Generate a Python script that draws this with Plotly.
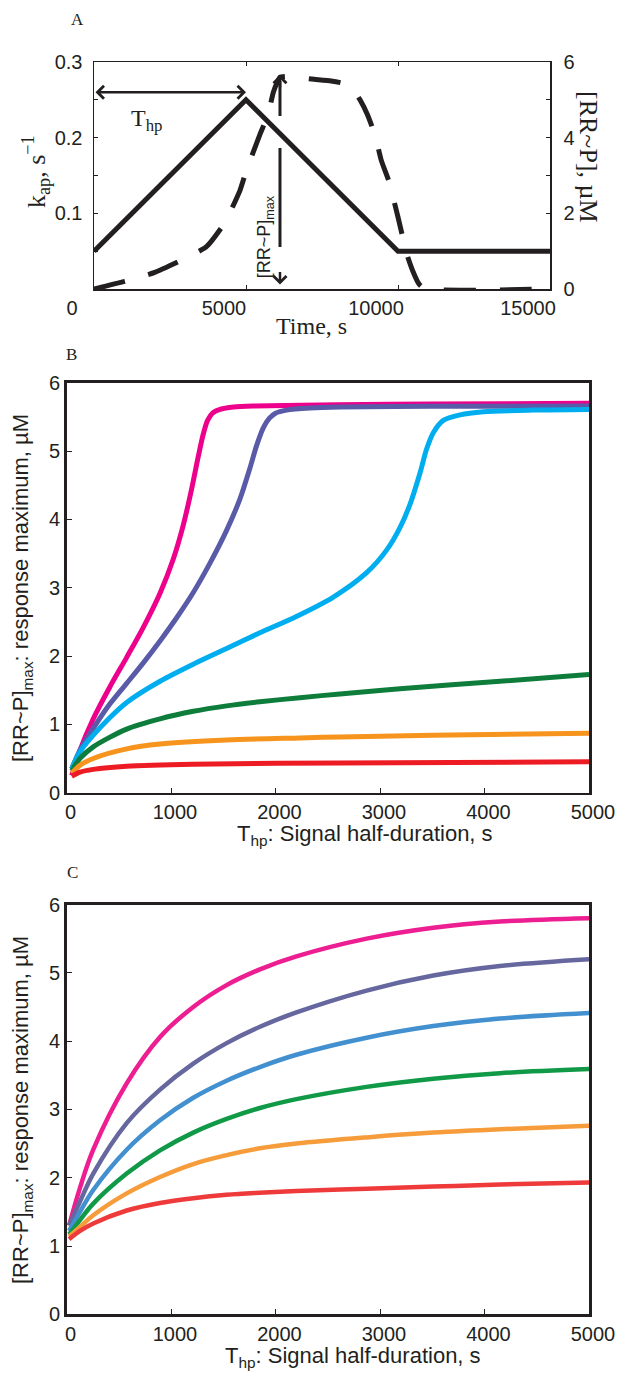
import plotly.graph_objects as go

# ---------------- data ----------------
# Panel A: signal k_ap (s^-1) and response [RR~P] (uM) vs time (s)
sig_t = [0, 5000, 10000, 15000]
sig_kap = [0.05, 0.25, 0.05, 0.05]

resp_t = [0, 1000, 2000, 3000, 3700, 4300, 4800, 5000, 5450, 5720, 5900, 6050, 6120, 6400,
          7160, 7800, 8180, 8500, 8750, 9000, 9250, 9450, 9700, 10000, 10300, 10500, 10700,
          10900, 15000]
resp_uM = [0, 0.2, 0.44, 0.81, 1.12, 1.75, 2.6, 3.1, 4.07, 4.6, 5.2, 5.5, 5.6, 5.62,
           5.55, 5.5, 5.44, 5.3, 5.0, 4.6, 4.05, 3.4, 2.85, 1.9, 0.9, 0.45, 0.12,
           0.0, 0.0]

# Panel B: [RR~P]max vs Thp (s)
b_mag_t = [50, 129, 256, 416, 576, 735, 895, 1022, 1118, 1198, 1261, 1309, 1350, 1400, 1468, 1600, 1800, 2600, 3500, 5000]
b_mag_y = [0.25, 0.62, 1.08, 1.55, 1.98, 2.42, 2.92, 3.42, 3.92, 4.45, 4.92, 5.25, 5.45, 5.56, 5.61, 5.645, 5.66, 5.68, 5.69, 5.70]
b_sla_t = [50, 129, 256, 416, 576, 735, 895, 1054, 1213, 1373, 1532, 1660, 1755, 1819, 1883, 1940, 2000, 2106, 2330, 2617, 3500, 5000]
b_sla_y = [0.35, 0.62, 0.94, 1.30, 1.60, 1.90, 2.22, 2.56, 2.93, 3.36, 3.84, 4.30, 4.75, 5.08, 5.34, 5.48, 5.555, 5.60, 5.63, 5.645, 5.655, 5.66]
b_cya_t = [50, 129, 256, 416, 576, 895, 1213, 1532, 1851, 2200, 2550, 2872, 3063, 3191, 3287, 3383, 3446, 3510, 3606, 3766, 3989, 4467, 5000]
b_cya_y = [0.35, 0.60, 0.84, 1.10, 1.32, 1.63, 1.88, 2.11, 2.34, 2.58, 2.86, 3.22, 3.55, 3.88, 4.22, 4.68, 5.03, 5.27, 5.45, 5.53, 5.575, 5.60, 5.61]
b_grn_t = [50, 129, 256, 576, 895, 1213, 1532, 1851, 2234, 2617, 3191, 4148, 5000]
b_grn_y = [0.32, 0.50, 0.67, 0.93, 1.08, 1.19, 1.27, 1.33, 1.39, 1.445, 1.52, 1.63, 1.73]
b_org_t = [50, 129, 256, 576, 895, 1532, 2234, 2617, 3500, 5000]
b_org_y = [0.28, 0.40, 0.50, 0.64, 0.71, 0.77, 0.80, 0.815, 0.84, 0.87]
b_red_t = [50, 129, 256, 576, 1213, 2617, 5000]
b_red_y = [0.24, 0.30, 0.34, 0.385, 0.415, 0.435, 0.45]

# Panel C: [RR~P]max vs Thp (s)
c_t = [25, 129, 256, 576, 895, 1213, 1532, 1851, 2200, 2872, 3510, 4148, 5000]
c_mag_y = [1.30, 1.85, 2.41, 3.38, 4.06, 4.50, 4.82, 5.05, 5.24, 5.50, 5.66, 5.75, 5.80]
c_sla_y = [1.30, 1.65, 2.06, 2.80, 3.29, 3.67, 3.97, 4.21, 4.42, 4.74, 4.96, 5.10, 5.20]
c_blu_y = [1.22, 1.50, 1.82, 2.41, 2.84, 3.17, 3.42, 3.62, 3.80, 4.05, 4.22, 4.33, 4.41]
c_grn_y = [1.17, 1.38, 1.62, 2.06, 2.40, 2.66, 2.86, 3.02, 3.15, 3.33, 3.45, 3.53, 3.59]
c_org_y = [1.14, 1.28, 1.45, 1.77, 2.01, 2.20, 2.33, 2.43, 2.50, 2.59, 2.66, 2.71, 2.76]
c_red_y = [1.10, 1.22, 1.33, 1.52, 1.63, 1.70, 1.75, 1.78, 1.805, 1.84, 1.87, 1.90, 1.93]

a_xticks = [0, 5000, 10000, 15000]
a_xticktext = ["0", "5000", "10000", "15000"]
a_yticks = [0.05, 0.1, 0.15, 0.2, 0.25, 0.3]
a_yticktext = ["", "0.1", "", "0.2", "", "0.3"]
a_y2ticks = [0, 1, 2, 3, 4, 5, 6]
a_y2ticktext = ["0", "", "2", "", "4", "", "6"]
bc_xticks = [0, 1000, 2000, 3000, 4000, 5000]
bc_xticktext = ["0", "1000", "2000", "3000", "4000", "5000"]
bc_yticks = [0, 1, 2, 3, 4, 5, 6]
bc_yticktext = ["0", "1", "2", "3", "4", "5", "6"]

# annotation anchors (data units)
thp_arrow_y = 0.26
thp_arrow_x = [0, 5000]
thp_label = (1743, 0.223)
max_arrow_x = 6118
max_arrow_y = [5.66, 0.12]
max_label = (5625, 1.37)

# ---------------- styling ----------------
W, H = 617, 1374
INK = "#231F20"
SANS = "Liberation Sans, Arial, sans-serif"
SERIF = "Liberation Serif, Times New Roman, serif"

def px(x):
    return x / W

def py(y):
    return 1 - y / H

fig = go.Figure()

# Panel A
fig.add_trace(go.Scatter(x=sig_t, y=sig_kap, xaxis="x", yaxis="y", mode="lines",
                         line=dict(color=INK, width=5)))
fig.add_trace(go.Scatter(x=resp_t, y=resp_uM, xaxis="x", yaxis="y2", mode="lines",
                         line=dict(color=INK, width=5, dash="32px,24px", shape="spline", smoothing=0.5)))

# Panel B
b_series = [
    (b_mag_t, b_mag_y, "#EC008C"),
    (b_sla_t, b_sla_y, "#5A5BA8"),
    (b_cya_t, b_cya_y, "#00AEEF"),
    (b_grn_t, b_grn_y, "#0E7D3C"),
    (b_org_t, b_org_y, "#F7941D"),
    (b_red_t, b_red_y, "#ED1C24"),
]
for t, y, c in b_series:
    fig.add_trace(go.Scatter(x=t, y=y, xaxis="x2", yaxis="y3", mode="lines",
                             line=dict(color=c, width=5, shape="spline", smoothing=0.8)))

# Panel C
c_series = [
    (c_mag_y, "#ED1E91"),
    (c_sla_y, "#66679E"),
    (c_blu_y, "#4290CF"),
    (c_grn_y, "#109A48"),
    (c_org_y, "#F69C3A"),
    (c_red_y, "#EE3A3A"),
]
for y, c in c_series:
    fig.add_trace(go.Scatter(x=c_t, y=y, xaxis="x3", yaxis="y4", mode="lines",
                             line=dict(color=c, width=4.5, shape="spline", smoothing=1.0)))

tickfont = dict(family=SANS, size=20, color=INK)
common = dict(showgrid=False, zeroline=False, showline=True, linecolor=INK,
              ticks="inside", tickcolor=INK, tickfont=tickfont, fixedrange=True,
              automargin=False)

fig.update_layout(
    width=W, height=H,
    margin=dict(l=0, r=0, t=0, b=0, pad=0, autoexpand=False),
    paper_bgcolor="white", plot_bgcolor="white",
    showlegend=False,
    xaxis=dict(common, domain=[px(94), px(550)], range=[0, 15000], anchor="y",
               tickvals=a_xticks, ticktext=a_xticktext, linewidth=1.5, ticklen=4,
               mirror="ticks", ticklabelshift=-22),
    yaxis=dict(common, domain=[py(289), py(62)], range=[0, 0.3], anchor="x",
               tickvals=a_yticks, ticktext=a_yticktext, linewidth=1.5, ticklen=4,
               ticklabelstandoff=6),
    yaxis2=dict(common, range=[0, 6], anchor="x", overlaying="y", side="right",
                tickvals=a_y2ticks, ticktext=a_y2ticktext, linewidth=1.5, ticklen=4,
                ticklabelstandoff=8),
    xaxis2=dict(common, domain=[px(66.5), px(589)], range=[0, 5000], anchor="y3",
                tickvals=bc_xticks, ticktext=bc_xticktext, linewidth=2.5, ticklen=5,
                mirror=True, ticklabelshift=4),
    yaxis3=dict(common, domain=[py(792.6), py(382.8)], range=[0, 6], anchor="x2",
                tickvals=bc_yticks, ticktext=bc_yticktext, linewidth=2.5, ticklen=5,
                mirror=True),
    xaxis3=dict(common, domain=[px(66.5), px(589)], range=[0, 5000], anchor="y4",
                tickvals=bc_xticks, ticktext=bc_xticktext, linewidth=2.5, ticklen=5,
                mirror=True, ticklabelshift=4),
    yaxis4=dict(common, domain=[py(1314.3), py(904.5)], range=[0, 6], anchor="x3",
                tickvals=bc_yticks, ticktext=bc_yticktext, linewidth=2.5, ticklen=5,
                mirror=True),
)

ann = []

def paper_text(text, x, y, font, angle=0):
    ann.append(dict(text=text, x=px(x), y=py(y), xref="paper", yref="paper",
                    xanchor="center", yanchor="middle", showarrow=False,
                    textangle=angle, font=font))

serif24 = dict(family=SERIF, size=24, color=INK)
serif26 = dict(family=SERIF, size=26, color=INK)
sans22 = dict(family=SANS, size=22, color=INK)
letter = dict(family=SERIF, size=17, color=INK)

# panel letters
paper_text("A", 77, 20, letter)
paper_text("B", 71, 355, letter)
paper_text("C", 72, 872, letter)

# panel A titles
paper_text("k<sub>ap</sub>, s<sup>\u22121</sup>", 36, 172, serif26, -90)
paper_text("[RR~P], \u00b5M", 588, 157, serif26, 90)
paper_text("Time, s", 312, 326, serif24)

# panel B / C titles
paper_text("T<sub>hp</sub>: Signal half-duration, s", 365, 835, sans22)
paper_text("[RR~P]<sub>max</sub>: response maximum, \u00b5M", 22, 588, sans22, -90)
paper_text("T<sub>hp</sub>: Signal half-duration, s", 353, 1357, sans22)
paper_text("[RR~P]<sub>max</sub>: response maximum, \u00b5M", 22, 1110, sans22, -90)

# panel A in-plot annotations
ann.append(dict(text="T<sub>hp</sub>", x=thp_label[0], y=thp_label[1], xref="x", yref="y",
                showarrow=False, font=serif24, xanchor="center", yanchor="middle"))
ann.append(dict(text="[RR~P]<sub>max</sub>", x=max_label[0], y=max_label[1], xref="x", yref="y2",
                showarrow=False, textangle=-90, font=dict(family=SANS, size=18, color=INK),
                xanchor="center", yanchor="middle"))
# double-headed horizontal arrow
ann.append(dict(text="", x=thp_arrow_x[1], y=thp_arrow_y, ax=thp_arrow_x[0], ay=thp_arrow_y,
                xref="x", yref="y", axref="x", ayref="y", showarrow=True,
                arrowhead=4, startarrowhead=4, arrowside="end+start",
                arrowwidth=2.5, arrowsize=1.0, startarrowsize=1.0, arrowcolor=INK))
# vertical arrow heads
ann.append(dict(text="", x=max_arrow_x, y=max_arrow_y[0], xref="x", yref="y2",
                ax=0, ay=14, showarrow=True, arrowhead=4, arrowwidth=2.5, arrowsize=1.0,
                arrowcolor=INK))
ann.append(dict(text="", x=max_arrow_x, y=max_arrow_y[1], xref="x", yref="y2",
                ax=0, ay=-14, showarrow=True, arrowhead=4, arrowwidth=2.5, arrowsize=1.0,
                arrowcolor=INK))
fig.update_layout(annotations=ann)

# dashed vertical shaft of the [RR~P]max arrow
fig.add_shape(type="line", xref="x", yref="y2", x0=max_arrow_x, x1=max_arrow_x,
              y0=5.5, y1=0.25, line=dict(color=INK, width=3, dash="35px,32px,99px,34px"))

fig.write_html("out.html",
               config={"displayModeBar": False, "staticPlot": True},
               post_script="document.body.style.margin='0';document.body.style.padding='0';")
